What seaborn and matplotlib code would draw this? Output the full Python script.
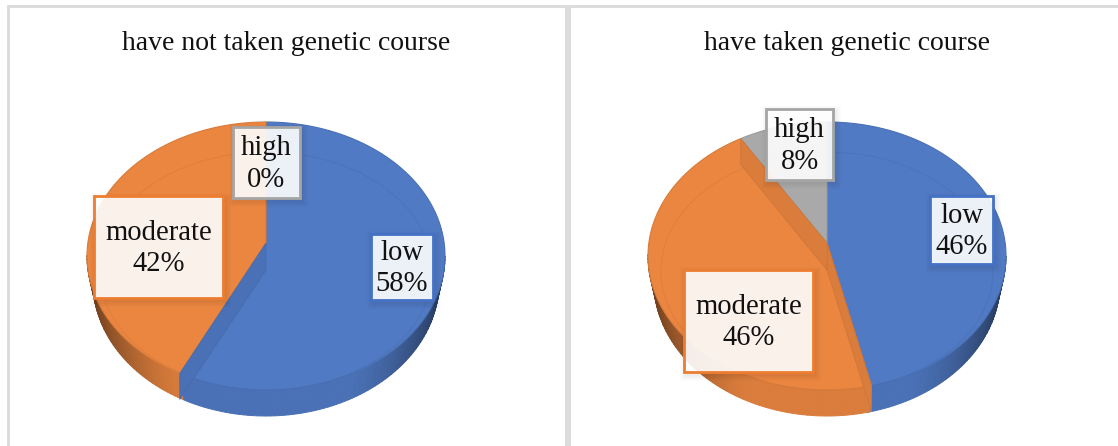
import numpy as np
import matplotlib
matplotlib.use('Agg')
import matplotlib.pyplot as plt
from matplotlib.colors import to_rgb
from matplotlib.patches import Polygon, Rectangle
import seaborn as sns

# Two fake-3D pies drawn as polygons, because matplotlib has no tilted pie

titles = ['have not taken genetic course', 'have taken genetic course']
categories = ['low', 'moderate', 'high']
not_taken = [58, 42, 0]
taken = [46, 46, 8]

sns.set_theme(style='white')
plt.rcParams['font.family'] = ['Liberation Serif', 'DejaVu Serif']
colors = ['#507AC4', '#EA8640', '#A9A9A9']
edges = ['#4472C4', '#ED7D31', '#A5A5A5']
borders = '#DADADA'

# layout in pixels
centers = [266, 827]
title_x = [286, 847]
a, b = 179, 134
top_y = 256
depth = 26
apex_y = 243
in_a, in_b, in_y = 166, 119, 271
boxes = [
    {'low': (371, 234, 433, 300), 'moderate': (94, 196, 223, 298), 'high': (233, 127, 300, 198)},
    {'low': (930, 196, 993, 264), 'moderate': (684, 270, 813, 372), 'high': (766, 109, 833, 180)},
]


def ell(cx, cy, ra, rb, theta):
    # theta in degrees, clockwise from the top
    t = np.radians(theta)
    return np.column_stack([cx + ra * np.sin(t), cy - rb * np.cos(t)])


def darker(c, f):
    return tuple(np.array(to_rgb(c)) * f)


fig = plt.figure(figsize=(11.18, 4.46), dpi=100, facecolor='white')
ax = fig.add_axes([0, 0, 1, 1])
ax.set_xlim(0, 1118)
ax.set_ylim(446, 0)
ax.axis('off')

# panel frames
for x0, x1 in [(8, 566), (569, 1130)]:
    ax.add_patch(Rectangle((x0, 6), x1 - x0, 460, fc='white', ec=borders, lw=2))

for cx, tx, vals, title, box in zip(centers, title_x, [not_taken, taken], titles, boxes):
    ax.text(tx, 43, title, ha='center', va='center', fontsize=20, color='#111111')
    stops = np.concatenate([[0], np.cumsum(vals) / np.sum(vals) * 360])

    # side wall, shaded towards the ends
    for i, c in enumerate(colors):
        th = np.arange(max(stops[i], 90), min(stops[i + 1], 270) + 1, 1.5)
        for t0, t1 in zip(th[:-1], th[1:]):
            top = ell(cx, top_y, a, b, np.array([t0, t1]))
            bot = ell(cx, top_y + depth, a - 6, b, np.array([t1, t0]))
            s = abs(np.sin(np.radians((t0 + t1) / 2)))
            f = 0.93 - 0.45 * max(0, s - 0.45) ** 1.5 / 0.55 ** 1.5
            ax.add_patch(Polygon(np.vstack([top, bot]), fc=darker(c, f), ec=darker(c, f), lw=0.7))

    # top surface
    for i, c in enumerate(colors):
        if vals[i] == 0:
            continue
        th = np.linspace(stops[i], stops[i + 1], 120)
        pts = np.vstack([[cx, apex_y], ell(cx, top_y, a, b, th)])
        ax.add_patch(Polygon(pts, fc=c, ec=darker(c, 0.92), lw=0.8, joinstyle='round'))

    # inner bevel ring
    for i, c in enumerate(colors):
        if vals[i] == 0:
            continue
        th = np.linspace(stops[i], stops[i + 1], 120)
        pts = ell(cx, in_y, in_a, in_b, th)
        ax.plot(pts[:, 0], pts[:, 1], color=darker(c, 0.9), lw=0.8, alpha=0.45, zorder=1)

    # darker band under each cut, coloured by the slice lying below the cut
    for i in range(1, 3):
        t = stops[i]
        if t <= 0 or t >= 360:
            continue
        owner = i if np.sin(np.radians(t)) > 0 else i - 1
        p = ell(cx, top_y, a, b, np.array([t]))[0]
        pts = [(cx, apex_y), tuple(p), (p[0], p[1] + depth), (cx, apex_y + depth + 1)]
        ax.add_patch(Polygon(pts, fc=darker(colors[owner], 0.93), ec=darker(colors[owner], 0.87), lw=0.5))

    # labels with a soft shadow
    for i, name in enumerate(categories):
        x0, y0, x1, y1 = box[name]
        for g in range(6, 0, -1):
            ax.add_patch(Rectangle((x0 + 2 - g, y0 + 3 - g), x1 - x0 + 2 * g, y1 - y0 + 2 * g,
                                   fc='black', ec='none', alpha=0.012))
        ax.add_patch(Rectangle((x0, y0), x1 - x0, y1 - y0, fc=(1, 1, 1, 0.9), ec=edges[i], lw=2))
        ax.text((x0 + x1) / 2, (y0 + y1) / 2 + 1.5, f'{name}\n{vals[i]}%', ha='center', va='center',
                fontsize=20.6, color='#111111', linespacing=1.28)

plt.savefig('out.png', dpi=100)
